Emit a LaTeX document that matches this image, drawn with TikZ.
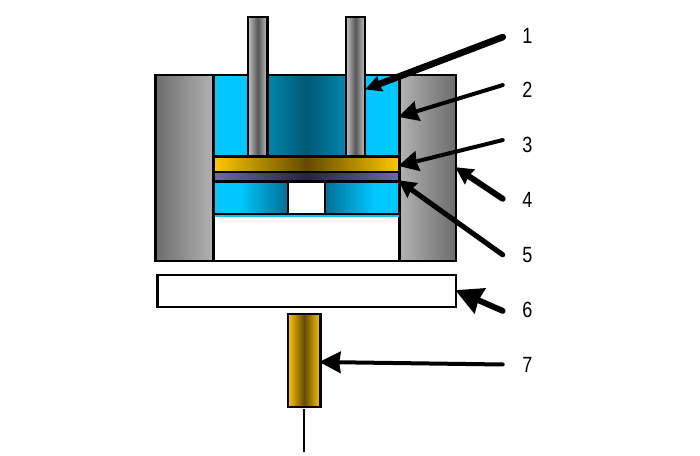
\documentclass[tikz,border=0pt]{standalone}
\usepackage{fontspec}
\setmainfont{Liberation Sans}
\usetikzlibrary{arrows.meta}
\definecolor{cy}{RGB}{0,200,255}
\definecolor{cyd}{RGB}{0,88,118}
\definecolor{cym}{RGB}{0,145,185}
\definecolor{cye}{RGB}{0,112,148}
\definecolor{yl}{RGB}{255,200,0}
\definecolor{yld}{RGB}{100,74,0}
\definecolor{pu}{RGB}{112,104,165}
\definecolor{pud}{RGB}{38,34,66}
\definecolor{gl}{RGB}{178,178,178}
\definecolor{gd}{RGB}{108,108,108}
\definecolor{rl}{RGB}{195,195,195}
\definecolor{rd}{RGB}{85,85,85}
\pgfdeclarehorizontalshading{upblue}{100bp}{color(0bp)=(cy);color(25bp)=(cy);color(36.9bp)=(cy);color(37.1bp)=(cym);color(50bp)=(cyd);color(62.9bp)=(cym);color(63.1bp)=(cy);color(75bp)=(cy);color(100bp)=(cy)}
\pgfdeclarehorizontalshading{lowl}{100bp}{color(0bp)=(cy);color(25bp)=(cy);color(42bp)=(cy);color(75bp)=(cye);color(100bp)=(cye)}
\pgfdeclarehorizontalshading{lowr}{100bp}{color(0bp)=(cye);color(25bp)=(cye);color(58bp)=(cy);color(75bp)=(cy);color(100bp)=(cy)}
\tikzset{
 x=0.75pt,y=-0.75pt,
 part/.style={draw=black,line width=1.6pt},
 lab/.style={font=\fontsize{16.5pt}{17pt}\selectfont,inner sep=0pt,anchor=center,xscale=0.82},
 pt/.style={inner sep=0pt,minimum size=0pt},
 arr/.style={draw=black,line cap=round,-{Stealth[length=#1pt,width=#1pt,inset=1pt]}}
}
\begin{document}
\begin{tikzpicture}
\useasboundingbox (0,0) rectangle (700,456);
\fill[white] (0,0) rectangle (700,456);
\path[part,left color=gd,right color=gl] (155.5,75) rectangle (213.5,261);
\path[part,left color=gl,right color=gd] (399.5,75) rectangle (456,261);
\path[part,fill=white] (213.5,214) rectangle (399.5,261);
\path[part,shading=upblue] (213.5,75) rectangle (399.5,156.5);
\path[part,left color=rl,right color=rl,middle color=rd] (248,17) rectangle (267.5,156.5);
\path[part,left color=rl,right color=rl,middle color=rd] (346,17) rectangle (365,156.5);
\path[part,left color=yl,right color=yl,middle color=yld] (213.5,156.5) rectangle (399.5,172);
\path[part,left color=pu,right color=pu,middle color=pud] (213.5,172) rectangle (399.5,181.5);
\path[part,shading=lowl] (213.5,181.5) rectangle (288,214);
\path[part,fill=white] (288,181.5) rectangle (325,214);
\path[part,shading=lowr] (325,181.5) rectangle (399.5,214);
\draw[cy,line width=1pt] (214.5,216) -- (398.5,216);
\path[part,fill=white] (157.5,275) rectangle (456,307);
\path[part,left color=yl,right color=yl,middle color=yld] (288,314) rectangle (320.5,407);
\node[pt] (w1) at (304,409) {};
\node[pt] (w2) at (304,452) {};
\draw[line width=1.5pt] (w1) -- (w2);
\foreach \n/\yy in {1/36,2/90,3/145,4/200,5/255,6/310,7/365}
  \node[lab] (l\n) at (527.5,\yy) {\n};
\node[pt] (s1) at (503,37) {};
\node[pt] (t1) at (365,89.5) {};
\node[pt] (s2) at (503,85) {};
\node[pt] (t2) at (398,117) {};
\node[pt] (s3) at (503,140) {};
\node[pt] (t3) at (398,166) {};
\node[pt] (s4) at (503,199) {};
\node[pt] (t4) at (455,167) {};
\node[pt] (s5) at (503,255) {};
\node[pt] (t5) at (398,180) {};
\node[pt] (s6) at (503,311) {};
\node[pt] (t6) at (455,290) {};
\node[pt] (s7) at (503,364.5) {};
\node[pt] (t7) at (319,362) {};
\draw[arr=12,line width=5pt] (s1) -- (t1);
\draw[arr=15,line width=3pt] (s2) -- (t2);
\draw[arr=15,line width=3pt] (s3) -- (t3);
\draw[arr=13,line width=4.4pt] (s4) -- (t4);
\draw[arr=13,line width=3.8pt] (s5) -- (t5);
\draw[arr=20,line width=4.4pt] (s6) -- (t6);
\draw[arr=16,line width=3pt] (s7) -- (t7);
\end{tikzpicture}
\end{document}
